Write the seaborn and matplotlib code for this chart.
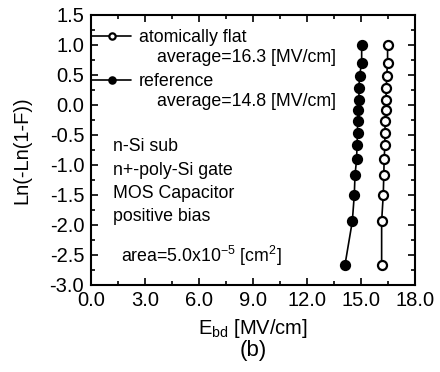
import matplotlib
matplotlib.use("Agg")
import matplotlib.pyplot as plt
from matplotlib.ticker import MultipleLocator, FormatStrFormatter
import seaborn as sns
import pandas as pd

# Weibull plot of breakdown field, 14 capacitors per wafer
weibull_y = [-2.67, -1.94, -1.50, -1.17, -0.90, -0.67, -0.46,
             -0.27, -0.09, 0.09, 0.28, 0.48, 0.70, 1.00]
ebd_flat = [16.15, 16.15, 16.24, 16.27, 16.29, 16.33, 16.33,
            16.35, 16.39, 16.39, 16.41, 16.43, 16.48, 16.48]
ebd_ref = [14.11, 14.52, 14.63, 14.67, 14.76, 14.78, 14.81,
           14.81, 14.85, 14.89, 14.89, 14.92, 15.04, 15.04]
series_names = ["atomically flat", "reference"]
average_texts = ["average=16.3 [MV/cm]", "average=14.8 [MV/cm]"]
x_ticks = [0.0, 3.0, 6.0, 9.0, 12.0, 15.0, 18.0]
y_ticks = [1.5, 1.0, 0.5, 0.0, -0.5, -1.0, -1.5, -2.0, -2.5, -3.0]

sns.set_theme(style="ticks")
plt.rcParams["font.family"] = ["Liberation Sans", "DejaVu Sans"]
plt.rcParams["mathtext.fontset"] = "custom"
plt.rcParams["mathtext.rm"] = "Liberation Sans"
plt.rcParams["mathtext.it"] = "Liberation Sans:italic"
plt.rcParams["mathtext.bf"] = "Liberation Sans:bold"
plt.rcParams["text.color"] = "black"
plt.rcParams["axes.labelcolor"] = "black"

df = pd.DataFrame({
    "Ebd": ebd_flat + ebd_ref,
    "y": weibull_y + weibull_y,
    "sample": [series_names[0]] * len(ebd_flat) + [series_names[1]] * len(ebd_ref),
})

fig = plt.figure(figsize=(4.4, 3.72), dpi=100)
ax = fig.add_axes([0.207, 0.234, 0.736, 0.726])

styles = {
    series_names[0]: dict(markerfacecolor="white"),
    series_names[1]: dict(markerfacecolor="black"),
}
for name in series_names:
    sub = df[df["sample"] == name]
    sns.lineplot(data=sub, x="Ebd", y="y", sort=False, estimator=None,
                 ax=ax, color="black", linewidth=1.2, marker="o",
                 markersize=6.5, markeredgecolor="black",
                 markeredgewidth=1.6, label=name, **styles[name])

ax.set_xlim(0, 18)
ax.set_ylim(-3.0, 1.5)
ax.set_xticks(x_ticks)
ax.set_yticks(y_ticks)
ax.xaxis.set_major_formatter(FormatStrFormatter("%.1f"))
ax.yaxis.set_major_formatter(FormatStrFormatter("%.1f"))
ax.xaxis.set_minor_locator(MultipleLocator(1.5))
ax.yaxis.set_minor_locator(MultipleLocator(0.25))
ax.tick_params(which="both", direction="in", top=True, right=True,
               color="black", width=1.2, labelsize=14.5, labelcolor="black")
ax.tick_params(which="major", length=5)
ax.tick_params(which="minor", length=3)
ax.tick_params(axis="x", which="major", pad=4.5)
ax.tick_params(axis="y", which="major", pad=5)
for sp in ax.spines.values():
    sp.set_linewidth(1.5)
    sp.set_color("black")

ax.set_xlabel("E$_{\\mathrm{bd}}$ [MV/cm]", fontsize=14.5, labelpad=5)
ax.set_ylabel("Ln(-Ln(1-F))", fontsize=14.5, labelpad=13)

leg = ax.legend(loc="upper left", bbox_to_anchor=(0.004, 0.948),
                frameon=False, fontsize=12.8, borderpad=0, borderaxespad=0,
                handlelength=2.2, handletextpad=0.4, labelspacing=1.55,
                markerscale=0.7)

ax.text(0.204, 0.841, average_texts[0], transform=ax.transAxes,
        fontsize=12.8, va="center", ha="left")
ax.text(0.204, 0.678, average_texts[1], transform=ax.transAxes,
        fontsize=12.8, va="center", ha="left")

notes = ["n-Si sub", "n+-poly-Si gate", "MOS Capacitor", "positive bias"]
note_y = [0.511, 0.425, 0.340, 0.255]
for t, yy in zip(notes, note_y):
    ax.text(0.068, yy, t, transform=ax.transAxes, fontsize=12.8,
            va="center", ha="left")
ax.text(0.093, 0.107, "area=5.0x10$^{-5}$ [cm$^{2}$]", transform=ax.transAxes,
        fontsize=12.8, va="center", ha="left")

fig.text(0.575, 0.058, "(b)", fontsize=16, ha="center", va="center")

fig.savefig("out.png", dpi=100)
